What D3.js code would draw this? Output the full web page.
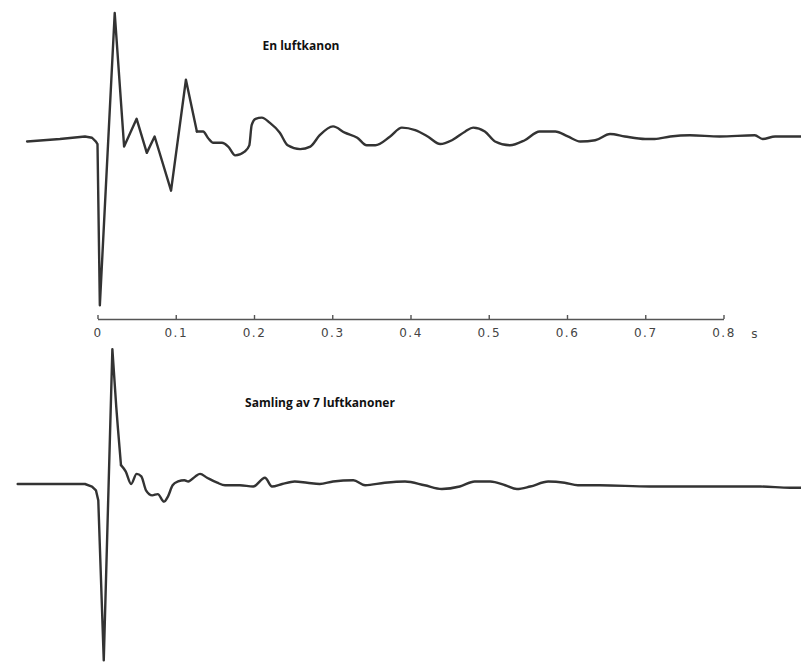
<!DOCTYPE html>
<html>
<head>
<meta charset="utf-8">
<script src="https://cdn.jsdelivr.net/npm/d3@7"></script>
<style>
  body { margin: 0; background: #fff; }
  svg { display: block; }
</style>
</head>
<body>
<div id="chart"></div>
<script>
// tid (s) og relativ amplitude lest av figuren
const topTime = [-0.090, -0.048, -0.016, -0.007, -0.002, 0.000, 0.003, 0.022, 0.034, 0.050, 0.063, 0.073, 0.094, 0.113,
    0.127, 0.135, 0.141, 0.148, 0.159, 0.167, 0.176, 0.188, 0.194, 0.197, 0.202, 0.210, 0.220, 0.233, 0.243, 0.259,
    0.272, 0.284, 0.301, 0.316, 0.332, 0.344, 0.355, 0.374, 0.389, 0.406, 0.422, 0.438, 0.453, 0.470, 0.480, 0.495,
    0.508, 0.527, 0.546, 0.565, 0.585, 0.601, 0.617, 0.636, 0.655, 0.674, 0.700, 0.712, 0.732, 0.757, 0.795, 0.840,
    0.850, 0.866, 0.879, 0.899];
const topAmp = [-0.02, 0.00, 0.02, 0.01, -0.02, -0.04, -1.32, 1.00, -0.06, 0.16, -0.11, 0.02, -0.41, 0.47,
    0.06, 0.06, 0.01, -0.03, -0.03, -0.06, -0.13, -0.10, -0.05, 0.11, 0.16, 0.17, 0.13, 0.05, -0.05, -0.08,
    -0.06, 0.03, 0.10, 0.05, 0.01, -0.05, -0.05, 0.02, 0.09, 0.07, 0.02, -0.04, -0.01, 0.06, 0.09, 0.06,
    -0.02, -0.05, -0.01, 0.06, 0.06, 0.02, -0.02, -0.01, 0.04, 0.02, 0.00, 0.00, 0.02, 0.03, 0.02, 0.03,
    0.00, 0.02, 0.02, 0.02];

const botTime = [-0.102, -0.048, -0.016, -0.007, -0.002, 0.001, 0.008, 0.019, 0.024, 0.026, 0.030, 0.036, 0.043, 0.050,
    0.056, 0.062, 0.070, 0.077, 0.085, 0.090, 0.096, 0.103, 0.111, 0.116, 0.125, 0.131, 0.140, 0.153, 0.163, 0.182,
    0.199, 0.214, 0.223, 0.236, 0.252, 0.268, 0.284, 0.301, 0.327, 0.342, 0.367, 0.393, 0.418, 0.440, 0.463, 0.482,
    0.502, 0.521, 0.536, 0.553, 0.576, 0.597, 0.614, 0.642, 0.706, 0.770, 0.796, 0.847, 0.885, 0.899];
const botAmp = [0.00, 0.00, 0.00, -0.02, -0.05, -0.13, -1.40, 1.07, 0.61, 0.45, 0.15, 0.10, 0.00, 0.08,
    0.06, -0.05, -0.09, -0.08, -0.14, -0.10, -0.01, 0.02, 0.03, 0.02, 0.06, 0.08, 0.05, 0.01, -0.01, -0.01,
    -0.02, 0.05, -0.02, 0.00, 0.02, 0.01, 0.00, 0.02, 0.03, -0.01, 0.01, 0.02, -0.01, -0.04, -0.02, 0.02,
    0.02, -0.01, -0.04, -0.02, 0.02, 0.01, -0.01, -0.01, -0.02, -0.02, -0.02, -0.02, -0.03, -0.03];

const tickValues = [0, 0.1, 0.2, 0.3, 0.4, 0.5, 0.6, 0.7, 0.8];
const tickLabels = ['0', '0.1', '0.2', '0.3', '0.4', '0.5', '0.6', '0.7', '0.8'];
const titles = ['En luftkanon', 'Samling av 7 luftkanoner'];
const unitLabel = 's';

const width = 801, height = 671;

const svg = d3.select('#chart')
    .append('svg')
        .attr('width', width)
        .attr('height', height);

// felles tidsakse for begge spor
const x = d3.scaleLinear()
    .domain([0, 0.8])
    .range([97.5, 723.5]);

// samme amplitude-skala, forskjellig nullinje
const yTop = d3.scaleLinear().domain([0, 1]).range([139, 13]);
const yBot = d3.scaleLinear().domain([0, 1]).range([484, 358]);

// impulsen tegnes med rette streker (spisse topper), resten glatt
function trace(times, amps, y, sharpUntil) {
    const pts = times.map((t, i) => [t, amps[i]]);
    const k = pts.findIndex(d => d[0] >= sharpUntil);
    const parts = [
        {pts: pts.slice(0, k + 1), curve: d3.curveLinear},
        {pts: pts.slice(k), curve: d3.curveMonotoneX}
    ];
    parts.forEach(p => {
        svg.append('path')
            .datum(p.pts)
            .attr('fill', 'none')
            .attr('stroke', '#333')
            .attr('stroke-width', 2.4)
            .attr('stroke-linejoin', 'round')
            .attr('stroke-linecap', 'round')
            .attr('d', d3.line()
                .x(d => x(d[0]))
                .y(d => y(d[1]))
                .curve(p.curve));
    });
}

trace(topTime, topAmp, yTop, 0.127);
trace(botTime, botAmp, yBot, 0.030);

// X akse mellom sporene
const axis = svg.append('g')
    .attr('transform', 'translate(0,319)')
    .call(d3.axisBottom(x)
        .tickValues(tickValues)
        .tickFormat((d, i) => tickLabels[i])
        .tickSizeInner(-4)
        .tickSizeOuter(0)
        .tickPadding(9));
axis.select('.domain')
    .attr('stroke', '#555')
    .attr('stroke-width', 1.6);
axis.selectAll('.tick line')
    .attr('stroke', '#555')
    .attr('stroke-width', 1.4);
axis.selectAll('.tick text')
    .attr('fill', '#444')
    .style('font-family', 'DejaVu Sans')
    .style('font-size', '12px')
    .style('letter-spacing', '1.5px');

svg.append('text')
    .attr('x', x(0.8) + 31)
    .attr('y', 338)
    .attr('fill', '#444')
    .style('font-family', 'DejaVu Sans')
    .style('font-size', '12px')
    .style('text-anchor', 'middle')
    .text(unitLabel);

// titler
svg.append('text')
    .attr('x', 301)
    .attr('y', 50)
    .style('text-anchor', 'middle')
    .style('font-family', 'Open Sans')
    .style('font-weight', 'bold')
    .style('font-size', '12px')
    .attr('fill', '#111')
    .text(titles[0]);

svg.append('text')
    .attr('x', 320)
    .attr('y', 407)
    .style('text-anchor', 'middle')
    .style('font-family', 'Open Sans')
    .style('font-weight', 'bold')
    .style('font-size', '12px')
    .attr('fill', '#111')
    .text(titles[1]);
</script>
</body>
</html>
